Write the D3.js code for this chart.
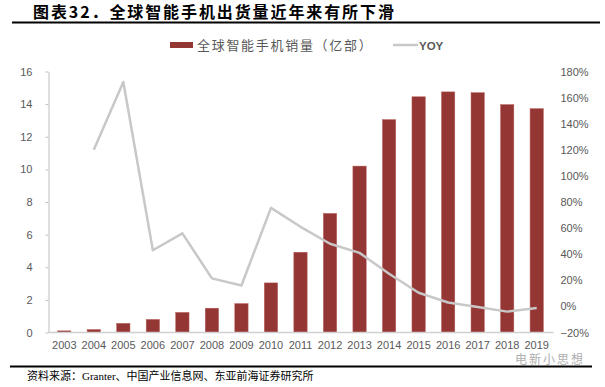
<!DOCTYPE html>
<html>
<head>
<meta charset="utf-8">
<script src="https://cdn.jsdelivr.net/npm/d3@7"></script>
<style>
  body { margin: 0; background: #fff; }
  svg { display: block; }
</style>
</head>
<body>
<div id="chart"></div>
<script>
const years = ['2003', '2004', '2005', '2006', '2007', '2008', '2009', '2010', '2011',
  '2012', '2013', '2014', '2015', '2016', '2017', '2018', '2019'];
// 全球智能手机销量（亿部）
const sales = [0.1, 0.18, 0.56, 0.8, 1.23, 1.49, 1.77, 3.04, 4.92,
  7.3, 10.2, 13.05, 14.45, 14.75, 14.7, 13.97, 13.72];
// YOY (2003 has no value)
const yoy = [null, 1.20, 1.72, 0.43, 0.56, 0.215, 0.16, 0.755, 0.61,
  0.48, 0.41, 0.25, 0.105, 0.03, -0.005, -0.04, -0.013];
const leftTicks = [0, 2, 4, 6, 8, 10, 12, 14, 16];
const rightTicks = [-0.2, 0, 0.2, 0.4, 0.6, 0.8, 1.0, 1.2, 1.4, 1.6, 1.8];

const width = 605, height = 387;
const plot = {left: 49.5, right: 551.5, top: 71.5, bottom: 332.5};
const tickFont = '"Liberation Sans", Arial, sans-serif';
const cjkFont = '"Noto Sans CJK SC", sans-serif';

const svg = d3.select('#chart')
  .append('svg')
  .attr('width', width)
  .attr('height', height);

// title
svg.append('text')
  .attr('x', 33)
  .attr('y', 17.5)
  .attr('font-family', cjkFont)
  .attr('font-weight', 'bold')
  .attr('font-size', 16)
  .attr('letter-spacing', 1.9)
  .attr('fill', '#000')
  .text('图表32．全球智能手机出货量近年来有所下滑');

svg.append('line')
  .attr('x1', 12).attr('x2', 600)
  .attr('y1', 22.5).attr('y2', 22.5)
  .attr('stroke', '#000').attr('stroke-width', 2);

const x = d3.scaleBand()
  .domain(years)
  .range([plot.left, plot.right])
  .paddingInner(0.55)
  .paddingOuter(0.275);

const y = d3.scaleLinear()
  .domain([0, 16])
  .range([plot.bottom, plot.top]);

const y2 = d3.scaleLinear()
  .domain([-0.2, 1.8])
  .range([plot.bottom, plot.top]);

// bars
svg.append('g')
  .selectAll('rect')
  .data(years.map((d, i) => ({year: d, value: sales[i]})))
  .join('rect')
  .attr('x', d => x(d.year))
  .attr('width', x.bandwidth())
  .attr('y', d => y(d.value))
  .attr('height', d => y(0) - y(d.value))
  .attr('fill', '#943634')
  .attr('stroke', '#b85c5a')
  .attr('stroke-width', 0.5);

// left axis
const leftAxis = svg.append('g')
  .attr('transform', `translate(${plot.left - 1},0)`)
  .call(d3.axisLeft(y).tickValues(leftTicks).tickSize(3).tickPadding(13).tickSizeOuter(0));
leftAxis.select('.domain').attr('stroke', '#bfbfbf');
leftAxis.selectAll('.tick line').attr('stroke', '#bfbfbf');
leftAxis.selectAll('text')
  .attr('font-family', tickFont)
  .attr('font-size', 11)
  .attr('fill', '#595959');

// right axis (labels only)
const rightAxis = svg.append('g')
  .attr('transform', `translate(${plot.right},0)`)
  .call(d3.axisRight(y2).tickValues(rightTicks).tickSize(0).tickPadding(9));
rightAxis.select('.domain').remove();
rightAxis.selectAll('text')
  .attr('font-family', tickFont)
  .attr('font-size', 11)
  .attr('fill', '#595959')
  .text(d => (d < 0 ? '\u2212' + Math.round(-d * 100) : Math.round(d * 100)) + '%');

// bottom axis
const bottomAxis = svg.append('g')
  .attr('transform', `translate(0,${plot.bottom})`)
  .call(d3.axisBottom(x).tickSize(0).tickPadding(9));
bottomAxis.select('.domain')
  .attr('stroke', '#d0d0d0')
  .attr('stroke-width', 1.5)
  .attr('d', `M${plot.left - 1},0H${plot.right + 2}`);
bottomAxis.selectAll('text')
  .attr('font-family', tickFont)
  .attr('font-size', 11)
  .attr('fill', '#595959');

// YOY line
const line = d3.line()
  .defined(d => d.value !== null)
  .x(d => x(d.year) + x.bandwidth() / 2)
  .y(d => y2(d.value));

svg.append('path')
  .datum(years.map((d, i) => ({year: d, value: yoy[i]})))
  .attr('fill', 'none')
  .attr('stroke', '#c8c8c8')
  .attr('stroke-width', 2.5)
  .attr('stroke-linejoin', 'round')
  .attr('d', line);

// legend
const legend = svg.append('g');
legend.append('rect')
  .attr('x', 170).attr('y', 42)
  .attr('width', 23).attr('height', 6)
  .attr('fill', '#943634');
legend.append('text')
  .attr('x', 197).attr('y', 49.5)
  .attr('font-family', cjkFont)
  .attr('font-size', 13)
  .attr('letter-spacing', 1.7)
  .attr('fill', '#595959')
  .text('全球智能手机销量（亿部）');
legend.append('line')
  .attr('x1', 393).attr('x2', 418)
  .attr('y1', 45).attr('y2', 45)
  .attr('stroke', '#c8c8c8').attr('stroke-width', 2.5);
legend.append('text')
  .attr('x', 419).attr('y', 49.5)
  .attr('font-family', tickFont)
  .attr('font-weight', 'bold')
  .attr('font-size', 11.5)
  .attr('fill', '#595959')
  .text('YOY');

// watermark
svg.append('text')
  .attr('x', 585).attr('y', 364)
  .attr('text-anchor', 'end')
  .attr('font-family', cjkFont)
  .attr('font-size', 12)
  .attr('letter-spacing', 2)
  .attr('fill', '#9a9a9a')
  .attr('opacity', 0.8)
  .text('电新小思想');

// footer
svg.append('line')
  .attr('x1', 10).attr('x2', 592)
  .attr('y1', 366.5).attr('y2', 366.5)
  .attr('stroke', '#000').attr('stroke-width', 2);

svg.append('text')
  .attr('x', 27).attr('y', 380)
  .attr('font-family', '"Liberation Serif", "Noto Sans CJK SC", serif')
  .attr('font-size', 11)
  .attr('fill', '#000')
  .text('资料来源：Granter、中国产业信息网、东亚前海证券研究所');
</script>
</body>
</html>
